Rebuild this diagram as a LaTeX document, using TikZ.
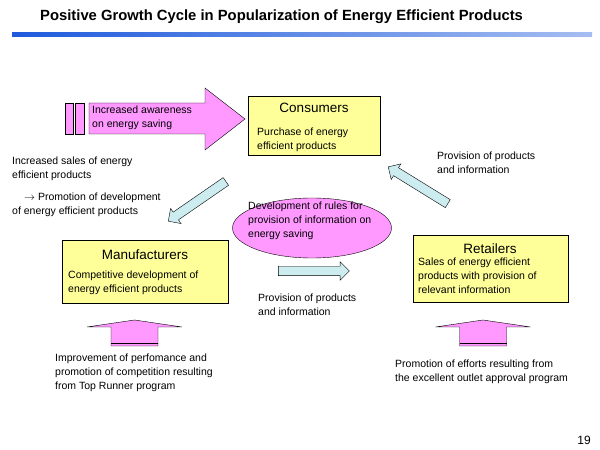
\documentclass[tikz,border=0pt]{standalone}
\usepackage{fontspec}
\setmainfont{Liberation Sans}
\usetikzlibrary{shapes.geometric,shapes.arrows}
\definecolor{boxyellow}{RGB}{255,255,153}
\definecolor{pinkfill}{RGB}{255,153,255}
\definecolor{bluearrow}{RGB}{204,236,240}
\definecolor{ruleblue}{RGB}{30,90,220}
\tikzset{
  boxtitle/.style={font=\fontsize{13.5}{15}\selectfont},
  txt/.style={font=\fontsize{10.5}{14}\selectfont, align=left, inner sep=0pt, anchor=north west},
  bluearr/.style={draw, fill=bluearrow, single arrow, inner sep=0pt, text height=4.5pt, text depth=4.5pt, single arrow head extend=4.5pt, single arrow head indent=0pt}
}
\begin{document}
\begin{tikzpicture}[x=1pt,y=1pt]
  \useasboundingbox (0,0) rectangle (600,450);
  % Title and rule
  \node[anchor=west, inner sep=0pt, font=\bfseries\fontsize{14.8}{16}\selectfont] (title) at (40,433) {Positive Growth Cycle in Popularization of Energy Efficient Products};
  \shade[left color=ruleblue, right color=ruleblue!40] (12,413) rectangle (592,417);
  \node[font=\fontsize{12}{14}\selectfont] (page) at (584,10) {19};

  % Awareness arrow
  \draw[fill=pinkfill] (65,347) rectangle (73,316);
  \draw[fill=pinkfill] (75,347) rectangle (84,316);
  \draw[fill=pinkfill] (89,347) -- (205,347) -- (205,362) -- (245,331) -- (205,300) -- (205,316) -- (89,316) -- cycle;
  \node[txt] (aware) at (92,344) {Increased awareness\\on energy saving};

  % Boxes
  \draw[fill=boxyellow] (248,354) rectangle (380,295);
  \node[boxtitle] (cons) at (314,342) {Consumers};
  \node[txt] (constxt) at (257,322) {Purchase of energy\\efficient products};

  \draw[fill=boxyellow] (62,210) rectangle (228,147);
  \node[boxtitle] (manu) at (145,195) {Manufacturers};
  \node[txt] (manutxt) at (68,179) {Competitive development of\\energy efficient products};

  \draw[fill=boxyellow] (413,215) rectangle (568,148);
  \node[boxtitle] (ret) at (490,201) {Retailers};
  \node[txt] (rettxt) at (418,192) {Sales of energy efficient\\products with provision of\\relevant information};

  % Ellipse
  \node[draw, ellipse, fill=pinkfill, minimum width=159, minimum height=60] (rules) at (312,222) {};
  \node[txt] (rulestxt) at (248,248) {Development of rules for\\provision of information on\\energy saving};

  % Blue arrows
  \node[bluearr, minimum height=70, rotate=214.6] (arrA) at (199,250) {};
  \node[bluearr, minimum height=70, rotate=148.3] (arrB) at (420,263.5) {};
  \node[bluearr, minimum height=71] (arrC) at (311.5,179) {};

  % Side texts
  \node[txt] (sales) at (12,293) {Increased sales of energy\\efficient products};
  \node[txt] (promo) at (12,257) {\hspace*{12pt}$\rightarrow$ Promotion of development\\of energy efficient products};
  \node[txt] (provA) at (437,298) {Provision of products\\and information};
  \node[txt] (provB) at (258,156) {Provision of products\\and information};

  % Up arrows
  \foreach \cx in {134.5,483} {
    \draw[fill=pinkfill] (\cx-23.5,104) -- (\cx-23.5,123) -- (\cx-47.5,123) -- (\cx,130) -- (\cx+47.5,123) -- (\cx+23.5,123) -- (\cx+23.5,104) -- cycle;
    \draw (\cx-23.5,107) -- (\cx+23.5,107);
  }
  \node[txt] (topr) at (55,96) {Improvement of perfomance and\\promotion of competition resulting\\from Top Runner program};
  \node[txt] (outlet) at (395,90) {Promotion of efforts resulting from\\the excellent outlet approval program};
\end{tikzpicture}
\end{document}
